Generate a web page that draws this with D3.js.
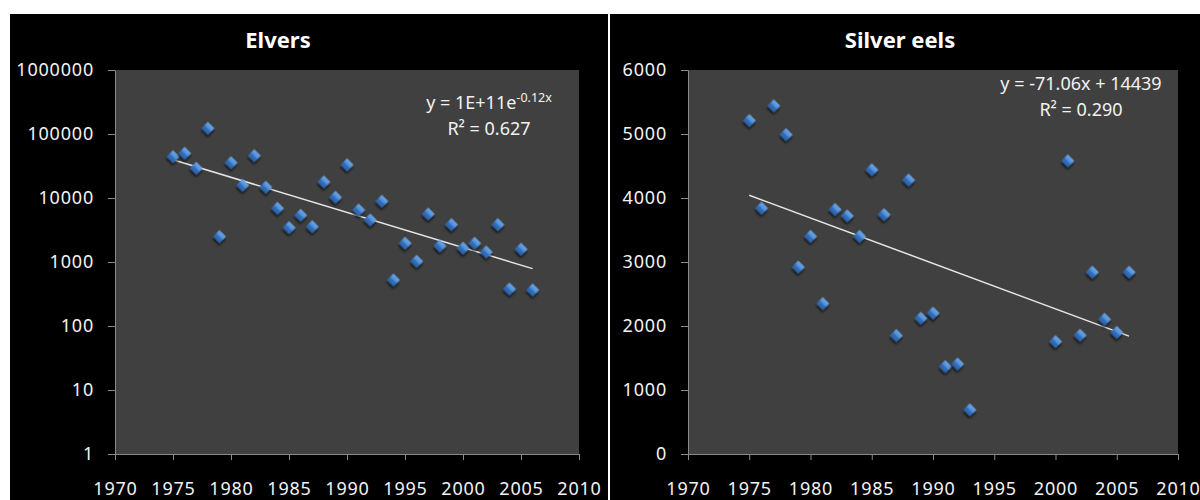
<!DOCTYPE html>
<html>
<head>
<meta charset="utf-8">
<script src="https://cdn.jsdelivr.net/npm/d3@7"></script>
<style>
body { margin: 0; background: #ffffff; }
svg { display: block; }
text { font-family: "Noto Sans", sans-serif; }
</style>
</head>
<body>
<svg width="1200" height="500"></svg>
<script>
// elvers, years and counts (log axis)
var elverYears = [1975,1976,1977,1978,1979,1980,1981,1982,1983,1984,1985,1986,1987,1988,1989,1990,
                  1991,1992,1993,1994,1995,1996,1997,1998,1999,2000,2001,2002,2003,2004,2005,2006];
var elverValues = [44200,50000,29100,122800,2490,35600,15800,45800,14700,6900,3440,5370,3560,17800,10250,33000,
                   6490,4530,8880,523,1960,1025,5620,1780,3830,1640,1960,1430,3830,378,1580,365];

// silver eels
var silverYears = [1975,1976,1977,1978,1979,1980,1981,1982,1983,1984,1985,1986,1987,1988,1989,1990,
                   1991,1992,1993,2000,2001,2002,2003,2004,2005,2006];
var silverValues = [5210,3840,5440,4990,2920,3400,2350,3820,3720,3400,4440,3740,1850,4280,2120,2200,
                    1365,1406,690,1755,4580,1854,2840,2104,1900,2840];

var xTicks = [1970,1975,1980,1985,1990,1995,2000,2005,2010];
var elverTicks = [1,10,100,1000,10000,100000,1000000];
var silverTicks = [0,1000,2000,3000,4000,5000,6000];

var elverEq = ["y = 1E+11e", "-0.12x", "R\u00b2 = 0.627"];
var silverEq = ["y = -71.06x + 14439", "R\u00b2 = 0.290"];

var svg = d3.select("svg");

// black panels with white gap between them
svg.append("rect").attr("x", 10).attr("y", 14).attr("width", 598).attr("height", 486).attr("fill", "#000");
svg.append("rect").attr("x", 610).attr("y", 14).attr("width", 590).attr("height", 486).attr("fill", "#000");

var defs = svg.append("defs");
var grad = defs.append("linearGradient").attr("id", "dia").attr("x1", 0).attr("y1", 0).attr("x2", 0).attr("y2", 1);
grad.append("stop").attr("offset", "0%").attr("stop-color", "#6fa9ea");
grad.append("stop").attr("offset", "48%").attr("stop-color", "#4a8ad6");
grad.append("stop").attr("offset", "52%").attr("stop-color", "#3674bf");
grad.append("stop").attr("offset", "100%").attr("stop-color", "#2a5fa3");
var shadow = defs.append("filter").attr("id", "shadow").attr("x", "-50%").attr("y", "-50%").attr("width", "200%").attr("height", "200%");
shadow.append("feDropShadow").attr("dx", 1.5).attr("dy", 2).attr("stdDeviation", 1.3)
      .attr("flood-color", "#000").attr("flood-opacity", 0.7);

function panel(opt) {
    var x = d3.scaleLinear().domain([1970, 2010]).range([opt.left, opt.right]);
    var y = opt.log ? d3.scaleLog().domain([1, 1000000]).range([454, 70])
                    : d3.scaleLinear().domain([0, 6000]).range([454, 70]);

    svg.append("rect")
       .attr("x", opt.left).attr("y", 70)
       .attr("width", opt.right - opt.left).attr("height", 384)
       .attr("fill", "#404040");

    svg.append("text")
       .attr("x", opt.titleX).attr("y", 48)
       .attr("text-anchor", "middle")
       .attr("font-size", "22px").attr("font-weight", "bold")
       .attr("fill", "#fff")
       .text(opt.title);

    var gx = svg.append("g")
       .attr("transform", "translate(0,454)")
       .call(d3.axisBottom(x).tickValues(xTicks).tickFormat(d3.format("d")).tickSize(6).tickPadding(22).tickSizeOuter(0));
    var gy = svg.append("g")
       .attr("transform", "translate(" + opt.left + ",0)")
       .call(d3.axisLeft(y).tickValues(opt.ticks).tickFormat(d3.format("d")).tickSize(7).tickPadding(14).tickSizeOuter(0));
    [gx, gy].forEach(function(g) {
        g.select(".domain").attr("stroke", "#8a8a8a");
        g.selectAll(".tick line").attr("stroke", "#8a8a8a");
        g.selectAll(".tick text")
         .attr("fill", "#f2f2f2")
         .attr("font-size", "18px")
         .attr("letter-spacing", "0.8px")
         .attr("font-family", "Noto Sans, sans-serif");
    });

    // least squares fit (on log values for the exponential one)
    var ys = opt.values.map(function(v) { return opt.log ? Math.log(v) : v; });
    var mx = d3.mean(opt.years), my = d3.mean(ys);
    var sxy = d3.sum(opt.years, function(d, i) { return (d - mx) * (ys[i] - my); });
    var sxx = d3.sum(opt.years, function(d) { return (d - mx) * (d - mx); });
    var b = sxy / sxx, a = my - b * mx;
    var fit = function(t) { var v = a + b * t; return opt.log ? Math.exp(v) : v; };
    var ends = [d3.min(opt.years), d3.max(opt.years)];

    svg.append("line")
       .attr("x1", x(ends[0])).attr("y1", y(fit(ends[0])))
       .attr("x2", x(ends[1])).attr("y2", y(fit(ends[1])))
       .attr("stroke", "#e6e6e6").attr("stroke-width", 1.5);

    svg.append("g").selectAll("path")
       .data(opt.years)
       .enter().append("path")
       .attr("d", d3.symbol(d3.symbolSquare, 84))
       .attr("transform", function(d, i) { return "translate(" + x(d) + "," + y(opt.values[i]) + ") rotate(45)"; })
       .attr("fill", "url(#dia)")
       .attr("filter", "url(#shadow)");

    var eq = svg.append("text")
       .attr("x", opt.eqX).attr("y", opt.eqY)
       .attr("text-anchor", "middle")
       .attr("font-size", "18px")
       .attr("fill", "#f2f2f2");
    eq.append("tspan").text(opt.eq[0]);
    if (opt.log) {
        eq.append("tspan").attr("font-size", "12.5px").attr("dy", -7).text(opt.eq[1]);
    }
    svg.append("text")
       .attr("x", opt.eqX).attr("y", opt.eqY + 26)
       .attr("text-anchor", "middle")
       .attr("font-size", "18px")
       .attr("fill", "#f2f2f2")
       .text(opt.eq[opt.eq.length - 1]);
}

panel({ title: "Elvers", titleX: 278, left: 115, right: 579, log: true, ticks: elverTicks,
        years: elverYears, values: elverValues, eq: elverEq, eqX: 489, eqY: 109 });
panel({ title: "Silver eels", titleX: 900, left: 688, right: 1178, log: false, ticks: silverTicks,
        years: silverYears, values: silverValues, eq: silverEq, eqX: 1081, eqY: 90 });
</script>
</body>
</html>
